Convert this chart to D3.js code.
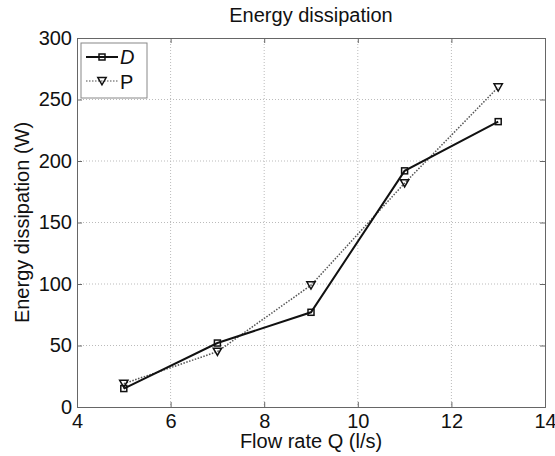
<!DOCTYPE html>
<html>
<head>
<meta charset="utf-8">
<script src="https://cdn.jsdelivr.net/npm/d3@7"></script>
<style>
  body { margin: 0; background: #fff; }
  text { font-family: "Liberation Sans", Arial, sans-serif; fill: #111; }
</style>
</head>
<body>
<figure id="graph" style="margin:0"></figure>
<script>
// chart data
const flowRate = [5, 7, 9, 11, 13];
const seriesD = [15, 52, 77, 192, 232];
const seriesP = [19, 45, 99, 182, 260];
const xTicks = [4, 6, 8, 10, 12, 14];
const yTicks = [0, 50, 100, 150, 200, 250, 300];

const W = 555, H = 456;
const margin = { left: 77, right: 10, top: 38, bottom: 49 };
const width = W - margin.left - margin.right;
const height = H - margin.top - margin.bottom;
const fontSize = '20px';

const svg = d3.select('figure#graph')
  .append('svg')
  .attr('width', W)
  .attr('height', H);

const g = svg.append('g')
  .attr('transform', `translate(${margin.left}, ${margin.top})`);

const xScale = d3.scaleLinear().domain([4, 14]).range([0, width]);
const yScale = d3.scaleLinear().domain([0, 300]).range([height, 0]);

// grid
g.append('g').selectAll('line')
  .data(xTicks.slice(1, -1))
  .join('line')
  .attr('x1', d => xScale(d)).attr('x2', d => xScale(d))
  .attr('y1', 0).attr('y2', height)
  .attr('stroke', '#bbb').attr('stroke-dasharray', '1,2');

g.append('g').selectAll('line')
  .data(yTicks.slice(1, -1))
  .join('line')
  .attr('y1', d => yScale(d)).attr('y2', d => yScale(d))
  .attr('x1', 0).attr('x2', width)
  .attr('stroke', '#bbb').attr('stroke-dasharray', '1,2');

// axes (matlab style: inward ticks, box)
g.append('g')
  .attr('transform', `translate(0, ${height})`)
  .call(d3.axisBottom(xScale).tickValues(xTicks).tickSize(-5).tickPadding(7).tickFormat(d3.format('d')));
g.append('g')
  .call(d3.axisLeft(yScale).tickValues(yTicks).tickSize(-5).tickPadding(5).tickFormat(d3.format('d')));
g.append('g')
  .attr('transform', `translate(${width}, 0)`)
  .call(d3.axisRight(yScale).tickValues(yTicks).tickSize(-5).tickFormat(''));
g.append('g')
  .call(d3.axisTop(xScale).tickValues(xTicks).tickSize(-5).tickFormat(''));

g.selectAll('.domain').attr('stroke', '#666');
g.selectAll('.tick line').attr('stroke', '#666');
g.selectAll('.tick text').style('font-size', fontSize).style('font-family', '"Liberation Sans", Arial, sans-serif').attr('fill', '#111');

// series P (dotted)
const line = d3.line().x((d, i) => xScale(flowRate[i])).y(d => yScale(d));

g.append('path')
  .datum(seriesP)
  .attr('fill', 'none')
  .attr('stroke', '#555')
  .attr('stroke-width', 1.5)
  .attr('stroke-dasharray', '1.5,1.5')
  .attr('d', line);

// series D (solid)
g.append('path')
  .datum(seriesD)
  .attr('fill', 'none')
  .attr('stroke', '#111')
  .attr('stroke-width', 2)
  .attr('d', line);

const tri = d3.symbol().type(d3.symbolTriangle).size(30);

g.append('g').selectAll('path')
  .data(seriesP)
  .join('path')
  .attr('d', tri)
  .attr('transform', (d, i) => `translate(${xScale(flowRate[i])}, ${yScale(d) - 1}) rotate(180)`)
  .attr('fill', 'none')
  .attr('stroke', '#111')
  .attr('stroke-width', 1.5);

g.append('g').selectAll('rect')
  .data(seriesD)
  .join('rect')
  .attr('x', (d, i) => xScale(flowRate[i]) - 3)
  .attr('y', d => yScale(d) - 3)
  .attr('width', 6).attr('height', 6)
  .attr('fill', 'none')
  .attr('stroke', '#111')
  .attr('stroke-width', 1.5);

// legend
const leg = g.append('g').attr('transform', 'translate(4, 5)');
leg.append('rect')
  .attr('width', 66).attr('height', 55)
  .attr('fill', '#fff').attr('stroke', '#888');
leg.append('line').attr('x1', 5).attr('x2', 37).attr('y1', 14).attr('y2', 14)
  .attr('stroke', '#111').attr('stroke-width', 2);
leg.append('rect').attr('x', 18).attr('y', 11).attr('width', 6).attr('height', 6)
  .attr('fill', 'none').attr('stroke', '#111').attr('stroke-width', 1.5);
leg.append('text').attr('x', 39).attr('y', 21).text('D')
  .style('font-size', fontSize).style('font-style', 'italic');
leg.append('line').attr('x1', 5).attr('x2', 37).attr('y1', 38).attr('y2', 38)
  .attr('stroke', '#888').attr('stroke-width', 1.5).attr('stroke-dasharray', '1.5,1.5');
leg.append('path').attr('d', tri)
  .attr('transform', 'translate(21, 37) rotate(180)')
  .attr('fill', 'none').attr('stroke', '#111').attr('stroke-width', 1.5);
leg.append('text').attr('x', 39).attr('y', 46).text('P')
  .style('font-size', fontSize);

// title and labels
svg.append('text')
  .attr('x', margin.left + width / 2).attr('y', 22)
  .attr('text-anchor', 'middle')
  .style('font-size', fontSize)
  .text('Energy dissipation');

svg.append('text')
  .attr('x', margin.left + width / 2).attr('y', 448)
  .attr('text-anchor', 'middle')
  .style('font-size', fontSize)
  .text('Flow rate Q (l/s)');

svg.append('text')
  .attr('transform', `translate(29, ${margin.top + height / 2}) rotate(-90)`)
  .attr('text-anchor', 'middle')
  .style('font-size', fontSize)
  .text('Energy dissipation (W)');
</script>
</body>
</html>
